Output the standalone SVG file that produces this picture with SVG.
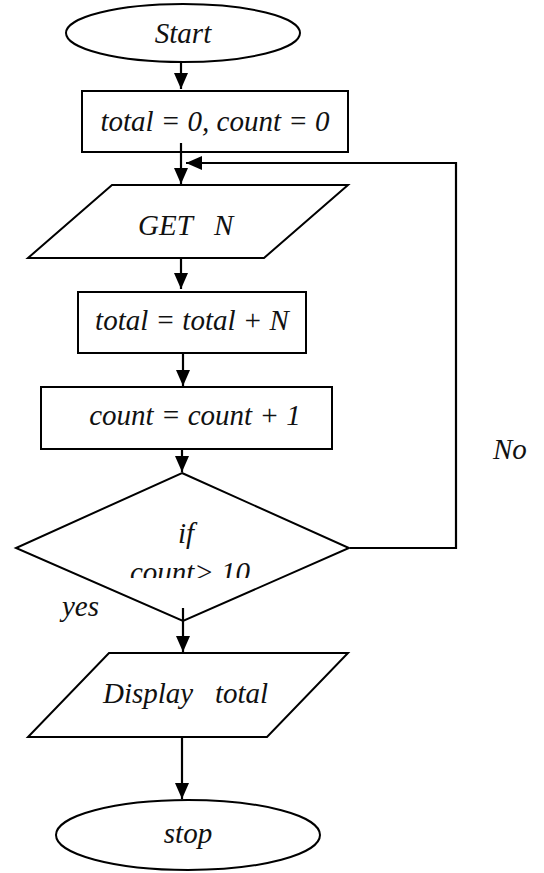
<svg xmlns="http://www.w3.org/2000/svg" width="544" height="873" viewBox="0 0 544 873">
<style>
.s{fill:#fff;stroke:#000;stroke-width:2}
.t{font-family:"Liberation Serif","Times New Roman",serif;font-style:italic;font-size:29px;fill:#111;white-space:pre}
.c{text-anchor:middle}
.l{fill:none;stroke:#000;stroke-width:2.2}
</style>
<defs>
<marker id="ah" viewBox="0 0 16 14" refX="16" refY="7" markerWidth="16" markerHeight="14" markerUnits="userSpaceOnUse" orient="auto">
<path d="M0,0 L16,7 L0,14 Z" fill="#000"/>
</marker>
<clipPath id="dc"><rect x="0" y="500" width="544" height="78"/></clipPath>
</defs>
<rect width="544" height="873" fill="#fff"/>
<g id="start"><ellipse class="s" cx="183" cy="33" rx="117" ry="29"/><text class="t c" x="183" y="43">Start</text></g>
<g id="init"><rect class="s" x="82" y="91" width="266" height="61"/><text class="t c" x="215" y="131">total = 0, count = 0</text></g>
<g id="get"><polygon class="s" points="112,185 348,185 264,258 28,258"/><text class="t" x="138" y="235">GET   N</text></g>
<g id="add"><rect class="s" x="78" y="292" width="228" height="61"/><text class="t c" x="192" y="330">total = total + N</text></g>
<g id="inc"><rect class="s" x="41" y="387" width="291" height="62"/><text class="t c" x="195" y="425">count = count + 1</text></g>
<g id="cond"><polygon class="s" points="182,473 349,548 183,621 16,548"/><text class="t c" x="186" y="543">if</text><text class="t c" x="190" y="582" clip-path="url(#dc)">count&gt; 10</text></g>
<g id="disp"><polygon class="s" points="109,653 348,653 267,737 28,737"/><text class="t" x="103" y="703">Display   total</text></g>
<g id="stop"><ellipse class="s" cx="188" cy="835" rx="132" ry="35"/><text class="t c" x="188" y="843">stop</text></g>
<g id="connectors">
<line class="l" x1="181" y1="62" x2="181" y2="89" marker-end="url(#ah)"/>
<line class="l" x1="181" y1="143" x2="181" y2="184" marker-end="url(#ah)"/>
<polyline class="l" points="350,548 456,548 456,163 186,163" marker-end="url(#ah)"/>
<line class="l" x1="181" y1="258" x2="181" y2="289" marker-end="url(#ah)"/>
<line class="l" x1="183" y1="353" x2="183" y2="386" marker-end="url(#ah)"/>
<line class="l" x1="182" y1="449" x2="182" y2="472" marker-end="url(#ah)"/>
<line class="l" x1="183" y1="608" x2="183" y2="652" marker-end="url(#ah)"/>
<line class="l" x1="182" y1="737" x2="182" y2="799" marker-end="url(#ah)"/>
</g>
<g id="labels"><text class="t" x="493" y="459">No</text><text class="t" x="62" y="616">yes</text></g>
</svg>
